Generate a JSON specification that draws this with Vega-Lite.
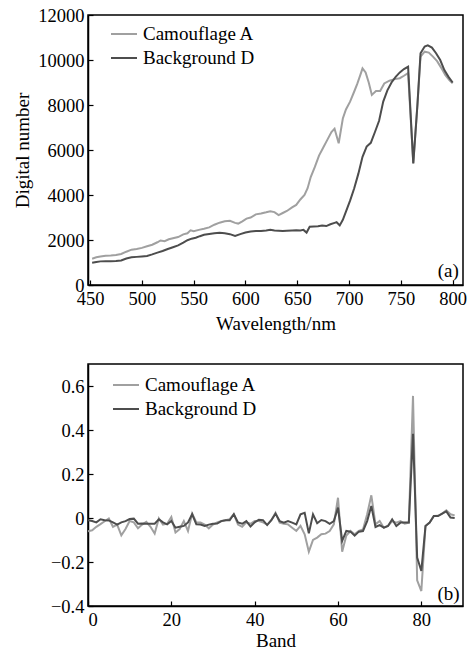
{
  "$schema": "https://vega.github.io/schema/vega-lite/v6.json",
  "background": "white",
  "padding": {"left": 13, "top": 5, "right": 5, "bottom": 5},
  "bounds": "flush",
  "spacing": 79,
  "config": {
    "view": {"stroke": "black", "strokeWidth": 1.5},
    "font": "Liberation Serif",
    "axis": {
      "grid": false,
      "domainColor": "black",
      "domainWidth": 1.5,
      "tickColor": "black",
      "tickWidth": 1.2,
      "tickSize": -5,
      "labelPadding": 9,
      "labelFont": "Liberation Serif",
      "labelFontSize": 18.5,
      "labelColor": "black",
      "titleFont": "Liberation Serif",
      "titleFontSize": 19,
      "titleFontWeight": "normal",
      "titleColor": "black"
    },
    "legend": {
      "labelFont": "Liberation Serif",
      "labelFontSize": 19,
      "labelColor": "black",
      "symbolType": "stroke",
      "symbolSize": 676,
      "symbolStrokeWidth": 2,
      "labelOffset": 5,
      "rowPadding": -6,
      "padding": 0
    }
  },
  "datasets": {
    "spectra": [
      {"w":452,"v":1170,"s":"Camouflage A"},{"w":456,"v":1230,"s":"Camouflage A"},{"w":460,"v":1270,"s":"Camouflage A"},{"w":465,"v":1300,"s":"Camouflage A"},{"w":470,"v":1310,"s":"Camouflage A"},{"w":475,"v":1330,"s":"Camouflage A"},{"w":480,"v":1380,"s":"Camouflage A"},{"w":485,"v":1480,"s":"Camouflage A"},{"w":490,"v":1570,"s":"Camouflage A"},{"w":495,"v":1600,"s":"Camouflage A"},{"w":500,"v":1650,"s":"Camouflage A"},{"w":505,"v":1720,"s":"Camouflage A"},{"w":510,"v":1790,"s":"Camouflage A"},{"w":515,"v":1900,"s":"Camouflage A"},{"w":518,"v":1980,"s":"Camouflage A"},{"w":522,"v":1950,"s":"Camouflage A"},{"w":526,"v":2030,"s":"Camouflage A"},{"w":530,"v":2075,"s":"Camouflage A"},{"w":535,"v":2130,"s":"Camouflage A"},{"w":540,"v":2250,"s":"Camouflage A"},{"w":544,"v":2300,"s":"Camouflage A"},{"w":547,"v":2430,"s":"Camouflage A"},{"w":550,"v":2390,"s":"Camouflage A"},{"w":555,"v":2450,"s":"Camouflage A"},{"w":560,"v":2500,"s":"Camouflage A"},{"w":565,"v":2560,"s":"Camouflage A"},{"w":570,"v":2680,"s":"Camouflage A"},{"w":575,"v":2770,"s":"Camouflage A"},{"w":580,"v":2830,"s":"Camouflage A"},{"w":585,"v":2850,"s":"Camouflage A"},{"w":590,"v":2760,"s":"Camouflage A"},{"w":593,"v":2730,"s":"Camouflage A"},{"w":597,"v":2830,"s":"Camouflage A"},{"w":601,"v":2950,"s":"Camouflage A"},{"w":605,"v":3000,"s":"Camouflage A"},{"w":610,"v":3140,"s":"Camouflage A"},{"w":615,"v":3180,"s":"Camouflage A"},{"w":620,"v":3230,"s":"Camouflage A"},{"w":624,"v":3280,"s":"Camouflage A"},{"w":628,"v":3240,"s":"Camouflage A"},{"w":632,"v":3110,"s":"Camouflage A"},{"w":636,"v":3200,"s":"Camouflage A"},{"w":640,"v":3290,"s":"Camouflage A"},{"w":645,"v":3450,"s":"Camouflage A"},{"w":649,"v":3560,"s":"Camouflage A"},{"w":653,"v":3800,"s":"Camouflage A"},{"w":657,"v":4000,"s":"Camouflage A"},{"w":660,"v":4300,"s":"Camouflage A"},{"w":663,"v":4800,"s":"Camouflage A"},{"w":667,"v":5250,"s":"Camouflage A"},{"w":671,"v":5750,"s":"Camouflage A"},{"w":675,"v":6100,"s":"Camouflage A"},{"w":679,"v":6450,"s":"Camouflage A"},{"w":683,"v":6800,"s":"Camouflage A"},{"w":686,"v":6950,"s":"Camouflage A"},{"w":690,"v":6300,"s":"Camouflage A"},{"w":694,"v":7400,"s":"Camouflage A"},{"w":697,"v":7800,"s":"Camouflage A"},{"w":701,"v":8150,"s":"Camouflage A"},{"w":705,"v":8600,"s":"Camouflage A"},{"w":708,"v":8950,"s":"Camouflage A"},{"w":711,"v":9350,"s":"Camouflage A"},{"w":713,"v":9630,"s":"Camouflage A"},{"w":716,"v":9450,"s":"Camouflage A"},{"w":719,"v":9000,"s":"Camouflage A"},{"w":722,"v":8450,"s":"Camouflage A"},{"w":726,"v":8620,"s":"Camouflage A"},{"w":730,"v":8620,"s":"Camouflage A"},{"w":734,"v":8960,"s":"Camouflage A"},{"w":739,"v":9080,"s":"Camouflage A"},{"w":744,"v":9150,"s":"Camouflage A"},{"w":749,"v":9190,"s":"Camouflage A"},{"w":753,"v":9300,"s":"Camouflage A"},{"w":757,"v":9420,"s":"Camouflage A"},{"w":762,"v":5410,"s":"Camouflage A"},{"w":766,"v":8000,"s":"Camouflage A"},{"w":769,"v":10150,"s":"Camouflage A"},{"w":773,"v":10370,"s":"Camouflage A"},{"w":777,"v":10330,"s":"Camouflage A"},{"w":781,"v":10150,"s":"Camouflage A"},{"w":785,"v":9950,"s":"Camouflage A"},{"w":789,"v":9650,"s":"Camouflage A"},{"w":793,"v":9330,"s":"Camouflage A"},{"w":797,"v":9100,"s":"Camouflage A"},{"w":800,"v":8960,"s":"Camouflage A"},
      {"w":452,"v":990,"s":"Background D"},{"w":456,"v":1020,"s":"Background D"},{"w":460,"v":1050,"s":"Background D"},{"w":465,"v":1060,"s":"Background D"},{"w":470,"v":1060,"s":"Background D"},{"w":475,"v":1070,"s":"Background D"},{"w":480,"v":1090,"s":"Background D"},{"w":485,"v":1180,"s":"Background D"},{"w":490,"v":1230,"s":"Background D"},{"w":495,"v":1250,"s":"Background D"},{"w":500,"v":1270,"s":"Background D"},{"w":505,"v":1290,"s":"Background D"},{"w":510,"v":1360,"s":"Background D"},{"w":515,"v":1440,"s":"Background D"},{"w":520,"v":1510,"s":"Background D"},{"w":525,"v":1600,"s":"Background D"},{"w":530,"v":1680,"s":"Background D"},{"w":535,"v":1760,"s":"Background D"},{"w":540,"v":1880,"s":"Background D"},{"w":544,"v":1990,"s":"Background D"},{"w":548,"v":2060,"s":"Background D"},{"w":552,"v":2100,"s":"Background D"},{"w":556,"v":2170,"s":"Background D"},{"w":560,"v":2230,"s":"Background D"},{"w":565,"v":2270,"s":"Background D"},{"w":570,"v":2300,"s":"Background D"},{"w":575,"v":2320,"s":"Background D"},{"w":580,"v":2300,"s":"Background D"},{"w":585,"v":2260,"s":"Background D"},{"w":590,"v":2180,"s":"Background D"},{"w":595,"v":2260,"s":"Background D"},{"w":600,"v":2330,"s":"Background D"},{"w":605,"v":2380,"s":"Background D"},{"w":610,"v":2400,"s":"Background D"},{"w":615,"v":2400,"s":"Background D"},{"w":620,"v":2420,"s":"Background D"},{"w":624,"v":2450,"s":"Background D"},{"w":628,"v":2420,"s":"Background D"},{"w":632,"v":2410,"s":"Background D"},{"w":636,"v":2400,"s":"Background D"},{"w":640,"v":2410,"s":"Background D"},{"w":645,"v":2420,"s":"Background D"},{"w":649,"v":2430,"s":"Background D"},{"w":653,"v":2420,"s":"Background D"},{"w":656,"v":2450,"s":"Background D"},{"w":659,"v":2330,"s":"Background D"},{"w":662,"v":2590,"s":"Background D"},{"w":666,"v":2600,"s":"Background D"},{"w":670,"v":2610,"s":"Background D"},{"w":674,"v":2640,"s":"Background D"},{"w":678,"v":2620,"s":"Background D"},{"w":682,"v":2700,"s":"Background D"},{"w":686,"v":2760,"s":"Background D"},{"w":688,"v":2790,"s":"Background D"},{"w":691,"v":2650,"s":"Background D"},{"w":694,"v":2900,"s":"Background D"},{"w":697,"v":3260,"s":"Background D"},{"w":701,"v":3750,"s":"Background D"},{"w":705,"v":4300,"s":"Background D"},{"w":709,"v":4950,"s":"Background D"},{"w":713,"v":5700,"s":"Background D"},{"w":717,"v":6150,"s":"Background D"},{"w":721,"v":6320,"s":"Background D"},{"w":725,"v":6800,"s":"Background D"},{"w":729,"v":7300,"s":"Background D"},{"w":733,"v":8150,"s":"Background D"},{"w":737,"v":8650,"s":"Background D"},{"w":741,"v":9000,"s":"Background D"},{"w":745,"v":9250,"s":"Background D"},{"w":749,"v":9450,"s":"Background D"},{"w":753,"v":9600,"s":"Background D"},{"w":757,"v":9700,"s":"Background D"},{"w":762,"v":5400,"s":"Background D"},{"w":766,"v":8000,"s":"Background D"},{"w":769,"v":10300,"s":"Background D"},{"w":773,"v":10600,"s":"Background D"},{"w":776,"v":10650,"s":"Background D"},{"w":780,"v":10550,"s":"Background D"},{"w":784,"v":10300,"s":"Background D"},{"w":788,"v":10000,"s":"Background D"},{"w":792,"v":9550,"s":"Background D"},{"w":796,"v":9250,"s":"Background D"},{"w":800,"v":9000,"s":"Background D"}
    ],
    "bands": [
      {"b":0,"v":-0.06,"s":"Camouflage A"},{"b":1,"v":-0.056,"s":"Camouflage A"},{"b":2,"v":-0.04,"s":"Camouflage A"},{"b":3,"v":-0.028,"s":"Camouflage A"},{"b":4,"v":-0.015,"s":"Camouflage A"},{"b":5,"v":-0.002,"s":"Camouflage A"},{"b":6,"v":-0.04,"s":"Camouflage A"},{"b":7,"v":-0.03,"s":"Camouflage A"},{"b":8,"v":-0.079,"s":"Camouflage A"},{"b":9,"v":-0.05,"s":"Camouflage A"},{"b":10,"v":-0.014,"s":"Camouflage A"},{"b":11,"v":-0.02,"s":"Camouflage A"},{"b":12,"v":-0.047,"s":"Camouflage A"},{"b":13,"v":-0.03,"s":"Camouflage A"},{"b":14,"v":-0.017,"s":"Camouflage A"},{"b":15,"v":-0.04,"s":"Camouflage A"},{"b":16,"v":-0.071,"s":"Camouflage A"},{"b":17,"v":-0.002,"s":"Camouflage A"},{"b":18,"v":-0.03,"s":"Camouflage A"},{"b":19,"v":-0.026,"s":"Camouflage A"},{"b":20,"v":0.005,"s":"Camouflage A"},{"b":21,"v":-0.066,"s":"Camouflage A"},{"b":22,"v":-0.05,"s":"Camouflage A"},{"b":23,"v":-0.014,"s":"Camouflage A"},{"b":24,"v":-0.059,"s":"Camouflage A"},{"b":25,"v":0.02,"s":"Camouflage A"},{"b":26,"v":-0.02,"s":"Camouflage A"},{"b":27,"v":-0.02,"s":"Camouflage A"},{"b":28,"v":-0.03,"s":"Camouflage A"},{"b":29,"v":-0.047,"s":"Camouflage A"},{"b":30,"v":-0.03,"s":"Camouflage A"},{"b":31,"v":-0.02,"s":"Camouflage A"},{"b":32,"v":-0.014,"s":"Camouflage A"},{"b":33,"v":-0.01,"s":"Camouflage A"},{"b":34,"v":-0.005,"s":"Camouflage A"},{"b":35,"v":0.017,"s":"Camouflage A"},{"b":36,"v":-0.03,"s":"Camouflage A"},{"b":37,"v":-0.04,"s":"Camouflage A"},{"b":38,"v":-0.02,"s":"Camouflage A"},{"b":39,"v":-0.026,"s":"Camouflage A"},{"b":40,"v":-0.014,"s":"Camouflage A"},{"b":41,"v":-0.014,"s":"Camouflage A"},{"b":42,"v":-0.02,"s":"Camouflage A"},{"b":43,"v":-0.03,"s":"Camouflage A"},{"b":44,"v":-0.01,"s":"Camouflage A"},{"b":45,"v":0.024,"s":"Camouflage A"},{"b":46,"v":-0.021,"s":"Camouflage A"},{"b":47,"v":-0.026,"s":"Camouflage A"},{"b":48,"v":-0.029,"s":"Camouflage A"},{"b":49,"v":-0.044,"s":"Camouflage A"},{"b":50,"v":-0.059,"s":"Camouflage A"},{"b":51,"v":-0.036,"s":"Camouflage A"},{"b":52,"v":-0.074,"s":"Camouflage A"},{"b":53,"v":-0.153,"s":"Camouflage A"},{"b":54,"v":-0.1,"s":"Camouflage A"},{"b":55,"v":-0.089,"s":"Camouflage A"},{"b":56,"v":-0.074,"s":"Camouflage A"},{"b":57,"v":-0.071,"s":"Camouflage A"},{"b":58,"v":-0.059,"s":"Camouflage A"},{"b":59,"v":-0.029,"s":"Camouflage A"},{"b":60,"v":0.092,"s":"Camouflage A"},{"b":61,"v":-0.153,"s":"Camouflage A"},{"b":62,"v":-0.08,"s":"Camouflage A"},{"b":63,"v":-0.059,"s":"Camouflage A"},{"b":64,"v":-0.074,"s":"Camouflage A"},{"b":65,"v":-0.059,"s":"Camouflage A"},{"b":66,"v":-0.052,"s":"Camouflage A"},{"b":67,"v":0.017,"s":"Camouflage A"},{"b":68,"v":0.103,"s":"Camouflage A"},{"b":69,"v":-0.029,"s":"Camouflage A"},{"b":70,"v":-0.014,"s":"Camouflage A"},{"b":71,"v":-0.044,"s":"Camouflage A"},{"b":72,"v":-0.036,"s":"Camouflage A"},{"b":73,"v":-0.014,"s":"Camouflage A"},{"b":74,"v":-0.021,"s":"Camouflage A"},{"b":75,"v":-0.014,"s":"Camouflage A"},{"b":76,"v":-0.026,"s":"Camouflage A"},{"b":77,"v":-0.021,"s":"Camouflage A"},{"b":78,"v":0.555,"s":"Camouflage A"},{"b":79,"v":-0.283,"s":"Camouflage A"},{"b":80,"v":-0.332,"s":"Camouflage A"},{"b":81,"v":-0.036,"s":"Camouflage A"},{"b":82,"v":-0.021,"s":"Camouflage A"},{"b":83,"v":0.009,"s":"Camouflage A"},{"b":84,"v":0.01,"s":"Camouflage A"},{"b":85,"v":0.02,"s":"Camouflage A"},{"b":86,"v":0.035,"s":"Camouflage A"},{"b":87,"v":0.017,"s":"Camouflage A"},{"b":88,"v":0.012,"s":"Camouflage A"},
      {"b":0,"v":-0.01,"s":"Background D"},{"b":1,"v":-0.014,"s":"Background D"},{"b":2,"v":-0.02,"s":"Background D"},{"b":3,"v":-0.006,"s":"Background D"},{"b":4,"v":-0.01,"s":"Background D"},{"b":5,"v":-0.011,"s":"Background D"},{"b":6,"v":-0.02,"s":"Background D"},{"b":7,"v":-0.03,"s":"Background D"},{"b":8,"v":-0.02,"s":"Background D"},{"b":9,"v":-0.014,"s":"Background D"},{"b":10,"v":-0.005,"s":"Background D"},{"b":11,"v":-0.003,"s":"Background D"},{"b":12,"v":-0.026,"s":"Background D"},{"b":13,"v":-0.025,"s":"Background D"},{"b":14,"v":-0.026,"s":"Background D"},{"b":15,"v":-0.026,"s":"Background D"},{"b":16,"v":-0.026,"s":"Background D"},{"b":17,"v":-0.006,"s":"Background D"},{"b":18,"v":-0.02,"s":"Background D"},{"b":19,"v":-0.029,"s":"Background D"},{"b":20,"v":-0.014,"s":"Background D"},{"b":21,"v":-0.044,"s":"Background D"},{"b":22,"v":-0.04,"s":"Background D"},{"b":23,"v":-0.036,"s":"Background D"},{"b":24,"v":-0.02,"s":"Background D"},{"b":25,"v":0.017,"s":"Background D"},{"b":26,"v":-0.029,"s":"Background D"},{"b":27,"v":-0.03,"s":"Background D"},{"b":28,"v":-0.036,"s":"Background D"},{"b":29,"v":-0.03,"s":"Background D"},{"b":30,"v":-0.026,"s":"Background D"},{"b":31,"v":-0.025,"s":"Background D"},{"b":32,"v":-0.014,"s":"Background D"},{"b":33,"v":-0.01,"s":"Background D"},{"b":34,"v":-0.01,"s":"Background D"},{"b":35,"v":0.017,"s":"Background D"},{"b":36,"v":-0.02,"s":"Background D"},{"b":37,"v":-0.026,"s":"Background D"},{"b":38,"v":-0.014,"s":"Background D"},{"b":39,"v":-0.039,"s":"Background D"},{"b":40,"v":-0.02,"s":"Background D"},{"b":41,"v":-0.008,"s":"Background D"},{"b":42,"v":-0.01,"s":"Background D"},{"b":43,"v":-0.032,"s":"Background D"},{"b":44,"v":-0.01,"s":"Background D"},{"b":45,"v":0.02,"s":"Background D"},{"b":46,"v":-0.014,"s":"Background D"},{"b":47,"v":-0.021,"s":"Background D"},{"b":48,"v":-0.014,"s":"Background D"},{"b":49,"v":-0.021,"s":"Background D"},{"b":50,"v":-0.029,"s":"Background D"},{"b":51,"v":0.017,"s":"Background D"},{"b":52,"v":0.024,"s":"Background D"},{"b":53,"v":-0.07,"s":"Background D"},{"b":54,"v":0.017,"s":"Background D"},{"b":55,"v":-0.024,"s":"Background D"},{"b":56,"v":-0.009,"s":"Background D"},{"b":57,"v":-0.014,"s":"Background D"},{"b":58,"v":-0.026,"s":"Background D"},{"b":59,"v":-0.014,"s":"Background D"},{"b":60,"v":0.047,"s":"Background D"},{"b":61,"v":-0.104,"s":"Background D"},{"b":62,"v":-0.059,"s":"Background D"},{"b":63,"v":-0.062,"s":"Background D"},{"b":64,"v":-0.08,"s":"Background D"},{"b":65,"v":-0.062,"s":"Background D"},{"b":66,"v":-0.059,"s":"Background D"},{"b":67,"v":-0.014,"s":"Background D"},{"b":68,"v":0.055,"s":"Background D"},{"b":69,"v":-0.041,"s":"Background D"},{"b":70,"v":-0.032,"s":"Background D"},{"b":71,"v":-0.044,"s":"Background D"},{"b":72,"v":-0.036,"s":"Background D"},{"b":73,"v":-0.006,"s":"Background D"},{"b":74,"v":-0.036,"s":"Background D"},{"b":75,"v":-0.021,"s":"Background D"},{"b":76,"v":-0.021,"s":"Background D"},{"b":77,"v":-0.021,"s":"Background D"},{"b":78,"v":0.383,"s":"Background D"},{"b":79,"v":-0.18,"s":"Background D"},{"b":80,"v":-0.241,"s":"Background D"},{"b":81,"v":-0.036,"s":"Background D"},{"b":82,"v":-0.021,"s":"Background D"},{"b":83,"v":0.009,"s":"Background D"},{"b":84,"v":0.009,"s":"Background D"},{"b":85,"v":0.02,"s":"Background D"},{"b":86,"v":0.03,"s":"Background D"},{"b":87,"v":0.002,"s":"Background D"},{"b":88,"v":0.0,"s":"Background D"}
    ]
  },
  "resolve": {"legend": {"color": "independent"}},
  "vconcat": [
    {
      "width": 375,
      "height": 270,
      "layer": [
        {
          "data": {"name": "spectra"},
          "mark": {"type": "line", "strokeWidth": 2, "clip": true},
          "encoding": {
            "x": {"field": "w", "type": "quantitative", "scale": {"domain": [448, 810], "nice": false},
                  "axis": {"values": [450, 500, 550, 600, 650, 700, 750, 800], "title": "Wavelength/nm", "titlePadding": 7}},
            "y": {"field": "v", "type": "quantitative", "scale": {"domain": [0, 12000], "nice": false},
                  "axis": {"values": [0, 2000, 4000, 6000, 8000, 10000, 12000], "format": "d", "title": "Digital number", "titlePadding": 5}},
            "color": {"field": "s", "type": "nominal", "sort": ["Camouflage A", "Background D"],
                      "scale": {"domain": ["Camouflage A", "Background D"], "range": ["#a0a0a0", "#4d4d4d"]},
                      "legend": {"title": null, "orient": "none", "legendX": 22, "legendY": 5}}
          }
        },
        {
          "data": {"values": [{"t": "(a)"}]},
          "mark": {"type": "text", "align": "right", "baseline": "bottom", "fontSize": 19, "font": "Liberation Serif", "color": "black"},
          "encoding": {
            "x": {"datum": 806, "type": "quantitative"},
            "y": {"datum": 200, "type": "quantitative"},
            "text": {"field": "t"}
          }
        }
      ]
    },
    {
      "width": 375,
      "height": 242,
      "layer": [
        {
          "data": {"name": "bands"},
          "mark": {"type": "line", "strokeWidth": 2, "clip": true},
          "encoding": {
            "x": {"field": "b", "type": "quantitative", "scale": {"domain": [0, 90], "nice": false},
                  "axis": {"values": [0, 20, 40, 60, 80], "title": "Band", "titlePadding": 3}},
            "y": {"field": "v", "type": "quantitative", "scale": {"domain": [-0.4, 0.7], "nice": false},
                  "axis": {"values": [-0.4, -0.2, 0, 0.2, 0.4, 0.6], "labelExpr": "datum.value == 0 ? '0' : format(datum.value, '.1f')", "title": null}},
            "color": {"field": "s", "type": "nominal", "sort": ["Camouflage A", "Background D"],
                      "scale": {"domain": ["Camouflage A", "Background D"], "range": ["#a0a0a0", "#4d4d4d"]},
                      "legend": {"title": null, "orient": "none", "legendX": 24, "legendY": 7}}
          }
        },
        {
          "data": {"values": [{"t": "(b)"}]},
          "mark": {"type": "text", "align": "right", "baseline": "bottom", "fontSize": 19, "font": "Liberation Serif", "color": "black"},
          "encoding": {
            "x": {"datum": 89.2, "type": "quantitative"},
            "y": {"datum": -0.39, "type": "quantitative"},
            "text": {"field": "t"}
          }
        }
      ]
    }
  ]
}
